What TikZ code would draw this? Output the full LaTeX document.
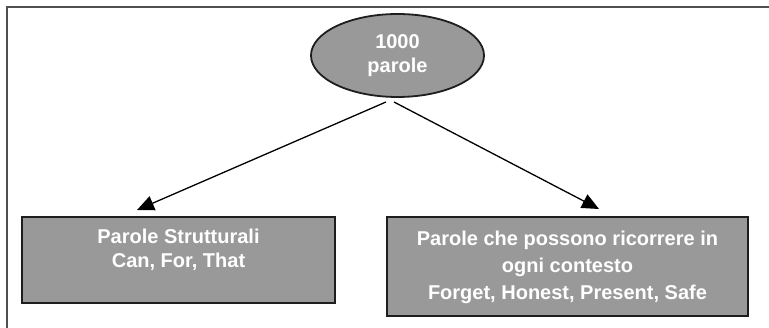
\documentclass[tikz,border=0pt]{standalone}
\usepackage{fontspec}
\setmainfont{Liberation Sans}
\usetikzlibrary{arrows.meta, shapes.geometric}
\definecolor{boxgray}{HTML}{999999}
\definecolor{edgedark}{HTML}{1E1E1E}
\definecolor{framegray}{HTML}{505050}
\tikzset{
  wordbox/.style={draw=edgedark, line width=1.8pt, fill=boxgray, inner sep=0pt},
  wordtext/.style={text=white, font=\bfseries\fontsize{20}{24}\selectfont, align=center, inner sep=0pt},
  link/.style={line width=1.3pt, -{Triangle[length=17pt, width=15pt]}}
}
\begin{document}
\begin{tikzpicture}[x=1pt, y=-1pt]
  \useasboundingbox (0,0) rectangle (769,328);
  % outer frame
  \draw[framegray, line width=2pt] (6.5,328) -- (6.5,7.5) -- (769,7.5);

  % top node
  \node[wordbox, ellipse, minimum width=173pt, minimum height=83pt] (root) at (397.5,55.5) {};
  \node[wordtext] (roottext) at (397.5,56) {1000\\parole};

  % left box
  \node[wordbox, rectangle, minimum width=313pt, minimum height=86pt] (left) at (178.5,260) {};
  \node[wordtext] (lefttext) at (178.5,250) {Parole Strutturali\\Can, For, That};

  % right box
  \node[wordbox, rectangle, minimum width=361pt, minimum height=99pt] (right) at (567.5,266.5) {};
  \node[wordtext, font=\bfseries\fontsize{20}{27}\selectfont] (righttext) at (567.5,267)
    {Parole che possono ricorrere in\\ogni contesto\\Forget, Honest, Present, Safe};

  % connectors
  \coordinate (ls) at (386,102);
  \coordinate (rs) at (394,102);
  \coordinate (lt) at (137,210);
  \coordinate (rt) at (599,209);
  \draw[link] (ls) -- (lt);
  \draw[link] (rs) -- (rt);
\end{tikzpicture}
\end{document}
